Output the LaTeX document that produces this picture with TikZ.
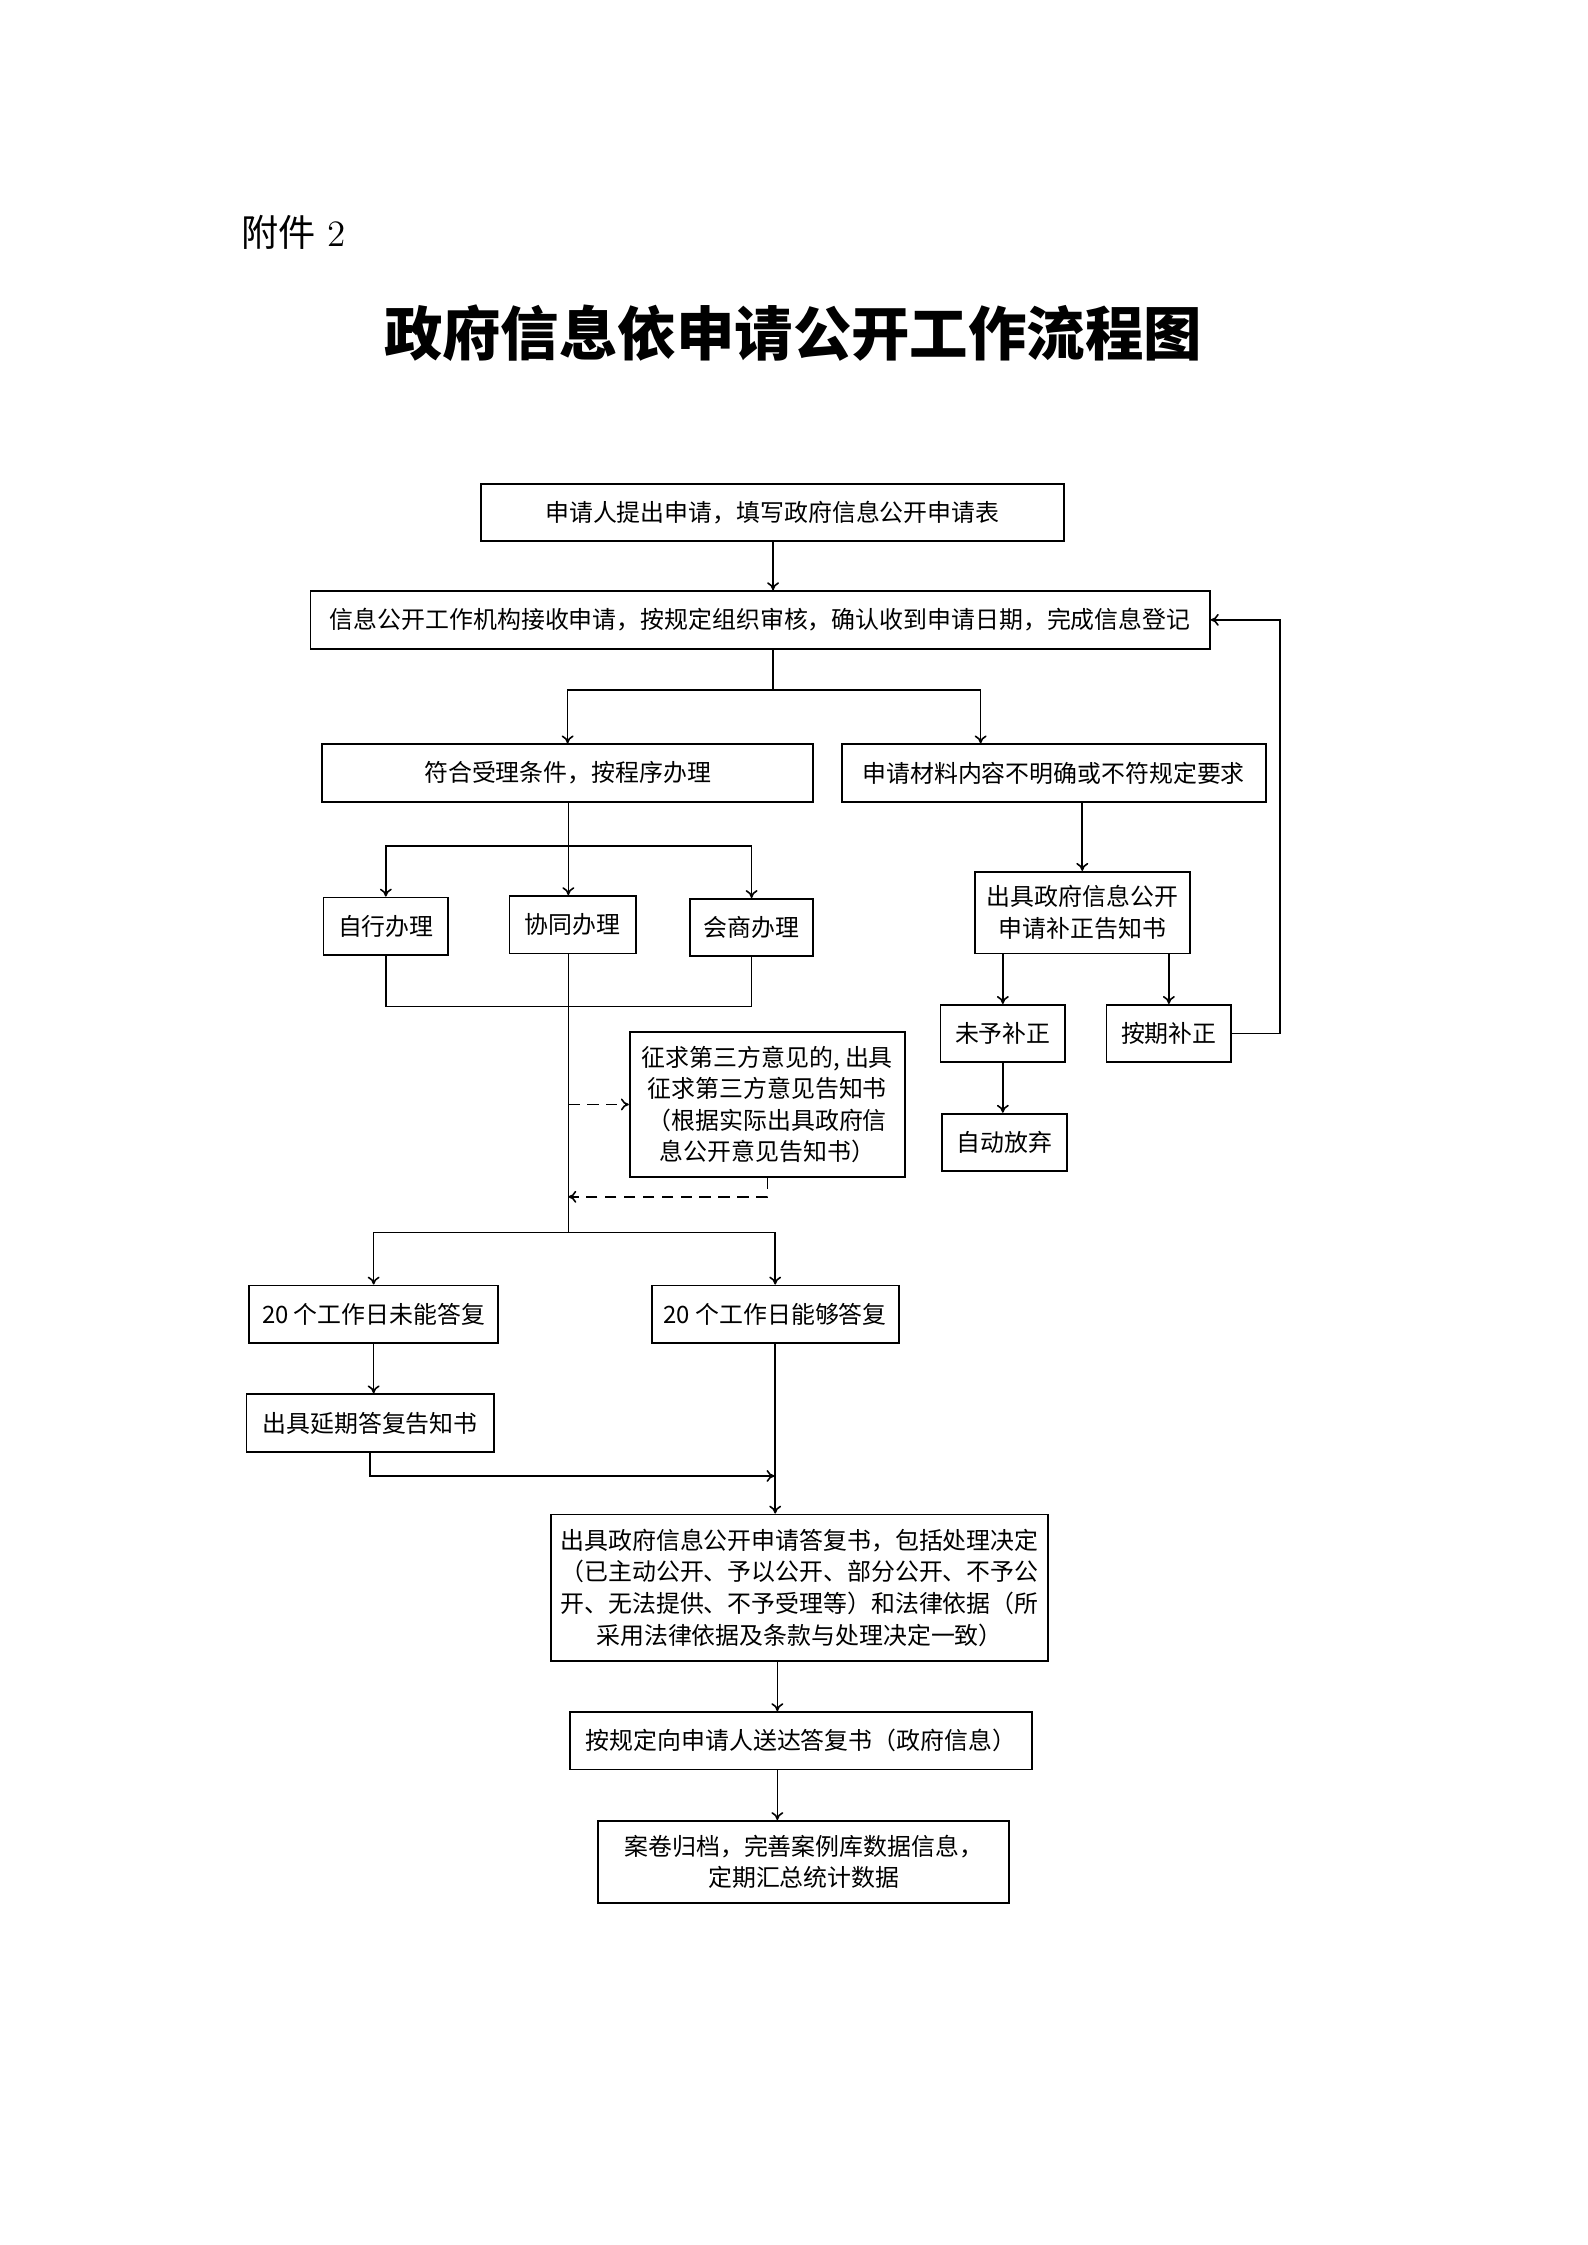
\documentclass[tikz,border=0pt]{standalone}
\usepackage{fontspec}
\newfontfamily\cjk{Noto Sans CJK SC}
\usetikzlibrary{arrows.meta}
\tikzset{
    box/.style={draw, line width=0.7pt, inner sep=0pt, align=center,
        minimum height=7.6mm, font=\cjk\fontsize{9}{11.9}\selectfont},
    line/.style={line width=0.6pt},
    arr/.style={line, -{To[length=3pt,width=4.5pt]}},
    dashline/.style={dash pattern=on 1.5mm off 1mm},
}
\begin{document}
\begin{tikzpicture}[x=0.18943mm, y=-0.18943mm]
    \useasboundingbox (0,0) rectangle (1108.6,1568.2);
    \node[anchor=west, font=\fontsize{14}{16}\selectfont] (att) at (162,162) {{\cjk 附件} 2};
    \node[font=\cjk\bfseries\fontsize{22}{26}\selectfont] (title) at (554,233) {政府信息依申请公开工作流程图};

    \node[box, minimum width=77.1mm] (apply) at (539.5,358) {申请人提出申请，填写政府信息公开申请表};
    \node[box, minimum width=119.0mm] (recv) at (531,433) {信息公开工作机构接收申请，按规定组织审核，确认收到申请日期，完成信息登记};
    \node[box, minimum width=65.0mm] (accept) at (396.5,540) {符合受理条件，按程序办理};
    \node[box, minimum width=56.1mm] (unclear) at (736,540) {申请材料内容不明确或不符规定要求};
    \node[box, minimum width=16.5mm] (self) at (269.5,647) {自行办理};
    \node[box, minimum width=16.7mm] (coop) at (400,646) {协同办理};
    \node[box, minimum width=16.3mm] (consult) at (525,648) {会商办理};
    \node[box, minimum width=28.4mm, minimum height=10.8mm] (notice) at (756,637.5) {出具政府信息公开\\申请补正告知书};
    \node[box, minimum width=16.5mm] (nofix) at (700.5,722) {未予补正};
    \node[box, minimum width=16.5mm] (fixed) at (816.5,722) {按期补正};
    \node[box, minimum width=16.5mm] (abandon) at (701.5,798) {自动放弃};
    \node[box, minimum width=36.4mm, minimum height=19.15mm] (third) at (536,771.5)
        {征求第三方意见的, 出具\\征求第三方意见告知书\\（根据实际出具政府信\\息公开意见告知书）};
    \node[box, minimum width=32.9mm] (late) at (261,918) {20 个工作日未能答复};
    \node[box, minimum width=32.7mm] (ontime) at (541.5,918) {20 个工作日能够答复};
    \node[box, minimum width=32.7mm] (extend) at (258.5,994) {出具延期答复告知书};
    \node[box, minimum width=65.7mm, minimum height=19.35mm] (reply) at (558.5,1109)
        {出具政府信息公开申请答复书，包括处理决定\\（已主动公开、予以公开、部分公开、不予公\\开、无法提供、不予受理等）和法律依据（所\\采用法律依据及条款与处理决定一致）};
    \node[box, minimum width=61.2mm] (deliver) at (559.5,1216) {按规定向申请人送达答复书（政府信息）};
    \node[box, minimum width=54.4mm, minimum height=10.8mm] (archive) at (561.5,1300.5)
        {案卷归档，完善案例库数据信息，\\定期汇总统计数据};

    \coordinate (j1) at (540,482);
    \coordinate (j1r) at (685,482);
    \coordinate (j2) at (397,591);
    \coordinate (j3) at (397,703);
    \coordinate (j4) at (397,861);
    \coordinate (j5) at (397,836);
    \coordinate (j6) at (541,1031);
    \coordinate (j7) at (894,722);
    \coordinate (ax) at (543,1160);

    \draw[arr] (j1 |- apply.south) -- (j1 |- recv.north);
    \draw[line] (j1 |- recv.south) -- (j1);
    \draw[arr] (j1) -| (accept.north);
    \draw[arr] (j1) -- (j1r) -- (j1r |- unclear.north);
    \draw[line] (j2 |- accept.south) -- (j2);
    \draw[arr] (j2) -| (self.north);
    \draw[arr] (j2) -- (j2 |- coop.north);
    \draw[arr] (j2) -| (consult.north);
    \draw[line] (self.south) |- (j3) -| (consult.south);
    \draw[line] (j2 |- coop.south) -- (j4);
    \draw[arr, dashline] (j2 |- third.west) -- (third.west);
    \draw[arr, dashline] (third.south) |- (j5);
    \draw[arr] (j4) -| (late.north);
    \draw[arr] (j4) -| (ontime.north);
    \draw[arr] (late.south) -- (late.south |- extend.north);
    \draw[arr] (extend.south) |- (j6);
    \draw[arr] (ontime.south) -- (ontime.south |- reply.north);
    \draw[arr] (ax |- reply.south) -- (ax |- deliver.north);
    \draw[arr] (ax |- deliver.south) -- (ax |- archive.north);
    \draw[arr] (notice.north |- unclear.south) -- (notice.north);
    \draw[arr] (nofix.north |- notice.south) -- (nofix.north);
    \draw[arr] (fixed.north |- notice.south) -- (fixed.north);
    \draw[arr] (nofix.south) -- (nofix.south |- abandon.north);
    \draw[arr] (fixed.east) -- (j7) |- (recv.east);
\end{tikzpicture}
\end{document}
